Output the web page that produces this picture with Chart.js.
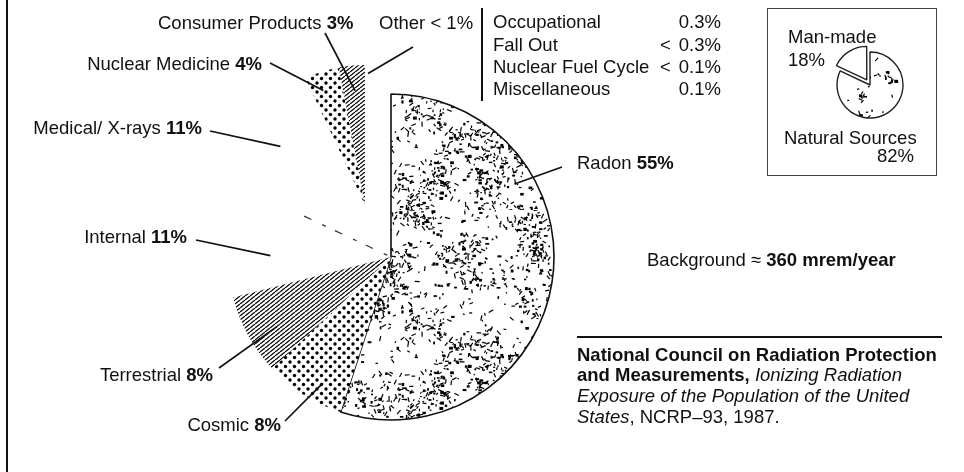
<!DOCTYPE html>
<html>
<head>
<meta charset="utf-8">
<script src="https://cdn.jsdelivr.net/npm/chart.js@4.4.1/dist/chart.umd.min.js"></script>
<style>
  html, body { margin: 0; padding: 0; background: #fff; }
  #wrap { position: relative; width: 964px; height: 472px; overflow: hidden;
          font-family: "Liberation Sans", Arial, sans-serif; color: #111; font-size: 18.5px; }
  #mainChart { position: absolute; left: 0; top: 0; }
  #insetChart { position: absolute; left: 820px; top: 35px; }
  .t { position: absolute; white-space: nowrap; line-height: 1; transform: translateY(-50%); }
  .r { transform: translate(-100%, -50%); }
  .rule { position: absolute; background: #111; }
  #inset { position: absolute; left: 767px; top: 8px; width: 168px; height: 166px; border: 1.2px solid #444; }
</style>
</head>
<body>
<div id="wrap">
  <div class="rule" style="left:6px; top:0; width:1.5px; height:472px;"></div>
  <div class="rule" style="left:481px; top:8px; width:2px; height:93px;"></div>
  <div class="rule" style="left:577px; top:336px; width:365px; height:1.5px;"></div>
  <div id="inset"></div>
  <canvas id="mainChart" width="964" height="472"></canvas>
  <canvas id="insetChart" width="100" height="100"></canvas>
</div>
<script>
// main pie: sources of background radiation, percent of total dose
const sourceLabels = ['Radon', 'Cosmic', 'Terrestrial', 'Internal', 'Medical/ X-rays', 'Nuclear Medicine', 'Consumer Products'];
const sourcePercents = [55, 8, 8, 11, 11, 4, 3];
const otherLabel = 'Other';
const otherPercent = '< 1%';

// small table of the "Other" sources
const minorLabels = ['Occupational', 'Fall Out', 'Nuclear Fuel Cycle', 'Miscellaneous'];
const minorBounds = ['', '<', '<', ''];
const minorPercents = [0.3, 0.3, 0.1, 0.1];

// inset pie
const insetLabels = ['Natural Sources', 'Man-made'];
const insetPercents = [82, 18];

const backgroundDose = 360; // mrem/year

// ---- layout / style (not data) ----
const pieRadius = 163;
const explodedSlices = [5, 6];          // nuclear medicine + consumer products pulled out together
const explodeShift = [-26, -52];
const explodedRadius = 140;

// where each label sits and where its leader line points into the slice
const labelLayout = [
  { x: 577, y: 163, side: 'left',  from: [562, 167], t: 0.30, rf: 0.88 },
  { x: 281, y: 425, side: 'right', from: [285, 421], t: 0.36, rf: 0.88 },
  { x: 213, y: 375, side: 'right', from: [219, 368], t: 0.41, rf: 0.82 },
  { x: 187, y: 237, side: 'right', from: [196, 240], t: 0.38, rf: 0.74 },
  { x: 202, y: 128, side: 'right', from: [210, 131], t: 0.50, rf: 0.96 },
  { x: 262, y: 64,  side: 'right', from: [270, 63],  t: 0.36, rf: 0.87 },
  { x: 158, y: 23,  side: 'left',  from: [325, 33],  t: 0.54, rf: 0.82 }
];
const otherLayout = { x: 379, y: 23, from: [413, 47], nudge: 0.023, rf: 0.94 };

const wrap = document.getElementById('wrap');
function addText(html, x, y, right) {
  const d = document.createElement('div');
  d.className = 't' + (right ? ' r' : '');
  d.style.left = x + 'px';
  d.style.top = y + 'px';
  d.innerHTML = html;
  wrap.appendChild(d);
  return d;
}

// slice labels
sourceLabels.forEach((name, i) => {
  const L = labelLayout[i];
  addText(name + ' <b>' + sourcePercents[i] + '%</b>', L.x, L.y, L.side === 'right');
});
addText(otherLabel + ' ' + otherPercent, otherLayout.x, otherLayout.y, false);

// minor sources table
const rowY = [22, 45, 67, 89];
minorLabels.forEach((name, i) => {
  addText(name, 493, rowY[i], false);
  if (minorBounds[i]) addText(minorBounds[i], 660, rowY[i], false);
  addText(minorPercents[i].toFixed(1) + '%', 721, rowY[i], true);
});

// inset texts
addText(insetLabels[1], 788, 37, false);
addText(insetPercents[1] + '%', 788, 60, false);
addText(insetLabels[0], 784, 138, false);
addText(insetPercents[0] + '%', 914, 156, true);

// background + citation
addText('Background &asymp; <b>' + backgroundDose + ' mrem/year</b>', 647, 260, false);
addText('<b>National Council on Radiation Protection</b>', 577, 355, false);
addText('<b>and Measurements,</b> <i>Ionizing Radiation</i>', 577, 375, false);
addText('<i>Exposure of the Population of the United</i>', 577, 396, false);
addText('<i>States</i>, NCRP&ndash;93, 1987.', 577, 417, false);

// ---- fill patterns ----
function tile(w, h, draw) {
  const c = document.createElement('canvas');
  c.width = w; c.height = h;
  const g = c.getContext('2d');
  g.fillStyle = '#fff';
  g.fillRect(0, 0, w, h);
  g.fillStyle = '#000';
  g.strokeStyle = '#000';
  draw(g);
  return g.createPattern(c, 'repeat');
}
const dots = tile(9, 9, g => {
  [[2, 2], [6.5, 6.5]].forEach(p => { g.beginPath(); g.arc(p[0], p[1], 1.7, 0, Math.PI * 2); g.fill(); });
});
const hatch = tile(5, 4, g => {
  g.lineWidth = 1.25;
  [[-5, 4], [0, 4], [5, 4]].forEach(p => {
    g.beginPath(); g.moveTo(p[0], p[1]); g.lineTo(p[0] + 5, p[1] - 4); g.stroke();
  });
});
// clumpy speckled texture, seeded so it is the same on every load
function speckle(size, clumps, perClump, singles, spread, seed) {
  let s = seed;
  const rnd = () => (s = (s * 16807) % 2147483647) / 2147483647;
  const mark = (g, x, y) => {
    if (rnd() < 0.3) {
      g.fillRect(x, y, 1.5 + rnd() * 2.5, 1.2 + rnd() * 2);
    } else {
      const len = 1.5 + rnd() * 4, a = rnd() * Math.PI;
      g.beginPath(); g.moveTo(x, y); g.lineTo(x + Math.cos(a) * len, y + Math.sin(a) * len); g.stroke();
    }
  };
  return tile(size, size, g => {
    g.lineWidth = 1.2;
    for (let c = 0; c < clumps; c++) {
      const cx = rnd() * size, cy = rnd() * size;
      for (let k = 0; k < perClump; k++) {
        const dx = (rnd() + rnd() + rnd() - 1.5) * spread, dy = (rnd() + rnd() + rnd() - 1.5) * spread;
        mark(g, (cx + dx + size) % size, (cy + dy + size) % size);
      }
    }
    for (let k = 0; k < singles; k++) mark(g, rnd() * size, rnd() * size);
  });
}
const radonFill = speckle(210, 45, 22, 380, 16, 12345);
const insetFill = speckle(70, 6, 8, 25, 6, 777);

// ---- plugins ----
const explodePlugin = {
  id: 'explode',
  afterDatasetsUpdate(chart) {
    const meta = chart.getDatasetMeta(0);
    explodedSlices.forEach(i => {
      const arc = meta.data[i];
      arc.x += explodeShift[0];
      arc.y += explodeShift[1];
      arc.outerRadius = explodedRadius;
    });
  }
};

function pointOn(arc, angle, r) {
  return [arc.x + Math.cos(angle) * r, arc.y + Math.sin(angle) * r];
}

const leaderPlugin = {
  id: 'leaders',
  afterDatasetsDraw(chart) {
    const ctx = chart.ctx;
    const arcs = chart.getDatasetMeta(0).data;
    ctx.save();

    // faint dashed edge between internal and medical slices
    const med = arcs[4];
    const a0 = pointOn(med, med.startAngle, 4), a1 = pointOn(med, med.startAngle, 100);
    ctx.strokeStyle = '#333';
    ctx.lineWidth = 1.2;
    ctx.setLineDash([4, 12, 8, 10]);
    ctx.beginPath(); ctx.moveTo(a0[0], a0[1]); ctx.lineTo(a1[0], a1[1]); ctx.stroke();
    ctx.setLineDash([]);

    ctx.strokeStyle = '#111';
    ctx.lineWidth = 1.7;
    arcs.forEach((arc, i) => {
      const L = labelLayout[i];
      const ang = arc.startAngle + L.t * (arc.endAngle - arc.startAngle);
      const p = pointOn(arc, ang, L.rf * arc.outerRadius);
      ctx.beginPath(); ctx.moveTo(L.from[0], L.from[1]); ctx.lineTo(p[0], p[1]); ctx.stroke();
    });
    const last = arcs[arcs.length - 1];
    const po = pointOn(last, last.endAngle + otherLayout.nudge, otherLayout.rf * last.outerRadius);
    ctx.beginPath(); ctx.moveTo(otherLayout.from[0], otherLayout.from[1]); ctx.lineTo(po[0], po[1]); ctx.stroke();
    ctx.restore();
  }
};

new Chart(document.getElementById('mainChart'), {
  type: 'pie',
  data: {
    labels: sourceLabels,
    datasets: [{
      data: sourcePercents,
      backgroundColor: [radonFill, dots, hatch, 'rgba(0,0,0,0)', 'rgba(0,0,0,0)', dots, hatch],
      borderColor: '#111',
      borderWidth: [1.6, 0, 0, 0, 0, 0, 0],
      hoverOffset: 0
    }]
  },
  options: {
    responsive: false,
    animation: false,
    events: [],
    radius: pieRadius,
    layout: { padding: { left: 221, right: 403, top: 87, bottom: 45 } },
    plugins: { legend: { display: false }, tooltip: { enabled: false } }
  },
  plugins: [explodePlugin, leaderPlugin]
});

new Chart(document.getElementById('insetChart'), {
  type: 'pie',
  data: {
    labels: insetLabels,
    datasets: [{
      data: insetPercents,
      backgroundColor: [insetFill, '#fff'],
      borderColor: '#222',
      borderWidth: 1.4,
      offset: [0, 24],   // chart.js draws a quarter of this as the pull-out
      hoverOffset: 0
    }]
  },
  options: {
    responsive: false,
    animation: false,
    events: [],
    radius: 33,
    plugins: { legend: { display: false }, tooltip: { enabled: false } }
  }
});
</script>
</body>
</html>
